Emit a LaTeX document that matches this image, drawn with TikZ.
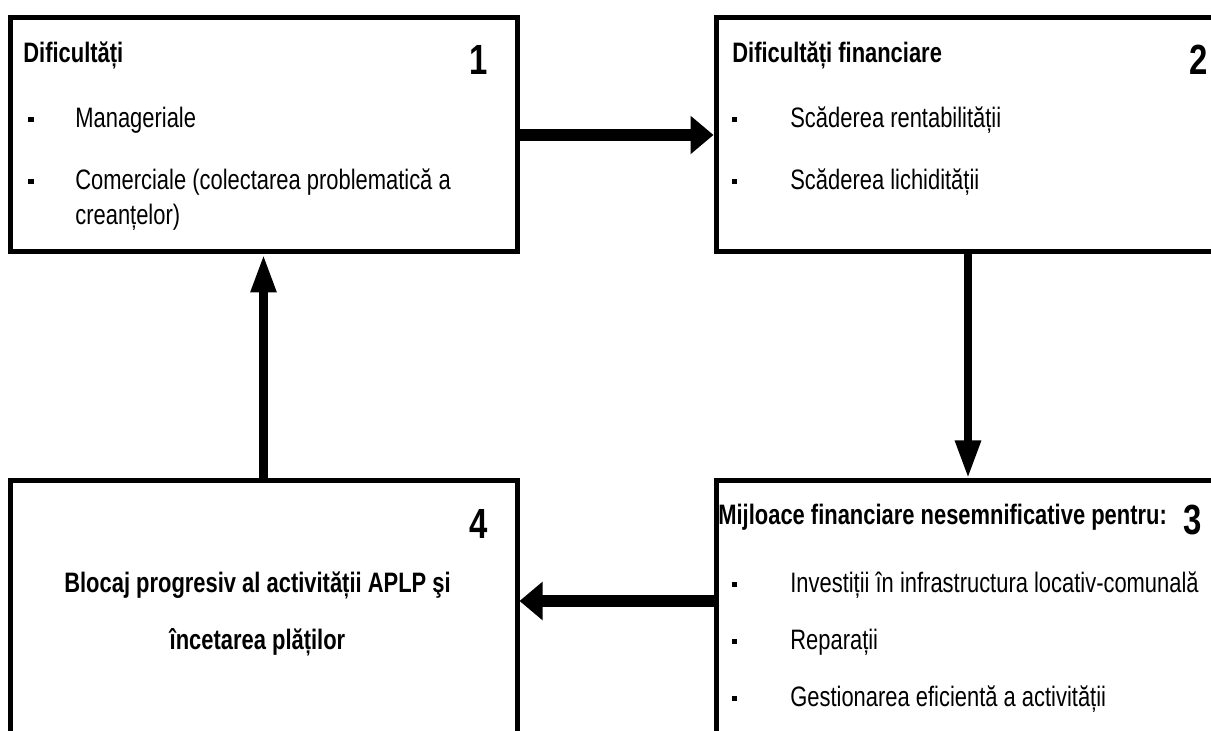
\documentclass[tikz,border=0pt]{standalone}
\usepackage{fontspec}
\setmainfont{Liberation Sans}[FakeStretch=0.78]
\usetikzlibrary{arrows.meta,positioning}

\begin{document}
\begin{tikzpicture}[
    box/.style={draw, line width=0.1cm, inner sep=0pt},
    head/.style={font=\fontsize{16}{20}\selectfont\bfseries,
                 anchor=base west, inner sep=0pt},
    num/.style={font=\fontsize{24}{28}\selectfont\bfseries,
                anchor=base east, inner sep=0pt},
    txt/.style={font=\fontsize{16}{20}\selectfont, anchor=base west,
                inner sep=0pt, align=left},
    bul/.style={fill, minimum size=0.1cm, inner sep=0pt},
    harr/.style={-{Triangle[length=0.46cm, width=0.74cm]}, line width=0.24cm},
    varr/.style={-{Triangle[length=0.76cm, width=0.48cm]}, line width=0.17cm}
  ]
    \useasboundingbox (0,0) rectangle (24.22,14.62);
    \clip (0,0) rectangle (24.22,14.62);

    % Box 1: Dificultati
    \node[box, minimum width=10.14cm, minimum height=4.68cm] (box1) at (5.27, 11.92) {};
    \node[head] (t1) at (0.46, 13.36) {Dificultăți};
    \node[num] (n1) at (9.76, 13.12) {1};
    \node[bul] (b11) at (0.62, 12.22) {};
    \node[txt] (i11) at (1.5, 12.06) {Manageriale};
    \node[bul] (b12) at (0.62, 10.98) {};
    \node[txt] (i12) at (1.5, 10.12) {Comerciale (colectarea problematică a\\creanțelor)};

    % Box 2: Dificultati financiare
    \node[box, minimum width=10.08cm, minimum height=4.68cm] (box2) at (19.36, 11.92) {};
    \node[head] (t2) at (14.64, 13.36) {Dificultăți financiare};
    \node[num] (n2) at (24.16, 13.12) {2};
    \node[bul] (b21) at (14.68, 12.22) {};
    \node[txt] (i21) at (15.8, 12.06) {Scăderea rentabilității};
    \node[bul] (b22) at (14.68, 10.98) {};
    \node[txt] (i22) at (15.8, 10.82) {Scăderea lichidității};

    % Box 3: Mijloace financiare
    \node[box, minimum width=10.08cm, minimum height=5.4cm] (box3) at (19.36, 2.3) {};
    \node[head] (t3) at (14.36, 4.12) {Mijloace financiare nesemnificative pentru:};
    \node[num] (n3) at (24.04, 3.92) {3};
    \node[bul] (b31) at (14.68, 2.92) {};
    \node[txt] (i31) at (15.8, 2.76) {Investiții în infrastructura locativ-comunală};
    \node[bul] (b32) at (14.68, 1.78) {};
    \node[txt] (i32) at (15.8, 1.62) {Reparații};
    \node[bul] (b33) at (14.68, 0.64) {};
    \node[txt] (i33) at (15.8, 0.48) {Gestionarea eficientă a activității};

    % Box 4: Blocaj progresiv
    \node[box, minimum width=10.14cm, minimum height=5.4cm] (box4) at (5.27, 2.3) {};
    \node[num] (n4) at (9.76, 3.84) {4};
    \node[head, anchor=base] (t41) at (5.15, 2.76) {Blocaj progresiv al activității APLP şi};
    \node[head, anchor=base] (t42) at (5.15, 1.62) {încetarea plăților};

    % Connectors
    \draw[harr] (box1) -- (box2);
    \draw[varr] (box2) -- (box3);
    \draw[harr] ([yshift=0.3cm]box3.west) -- ([yshift=0.3cm]box4.east);
    \draw[varr] (box4) -- (box1);
  \end{tikzpicture}
\end{document}
